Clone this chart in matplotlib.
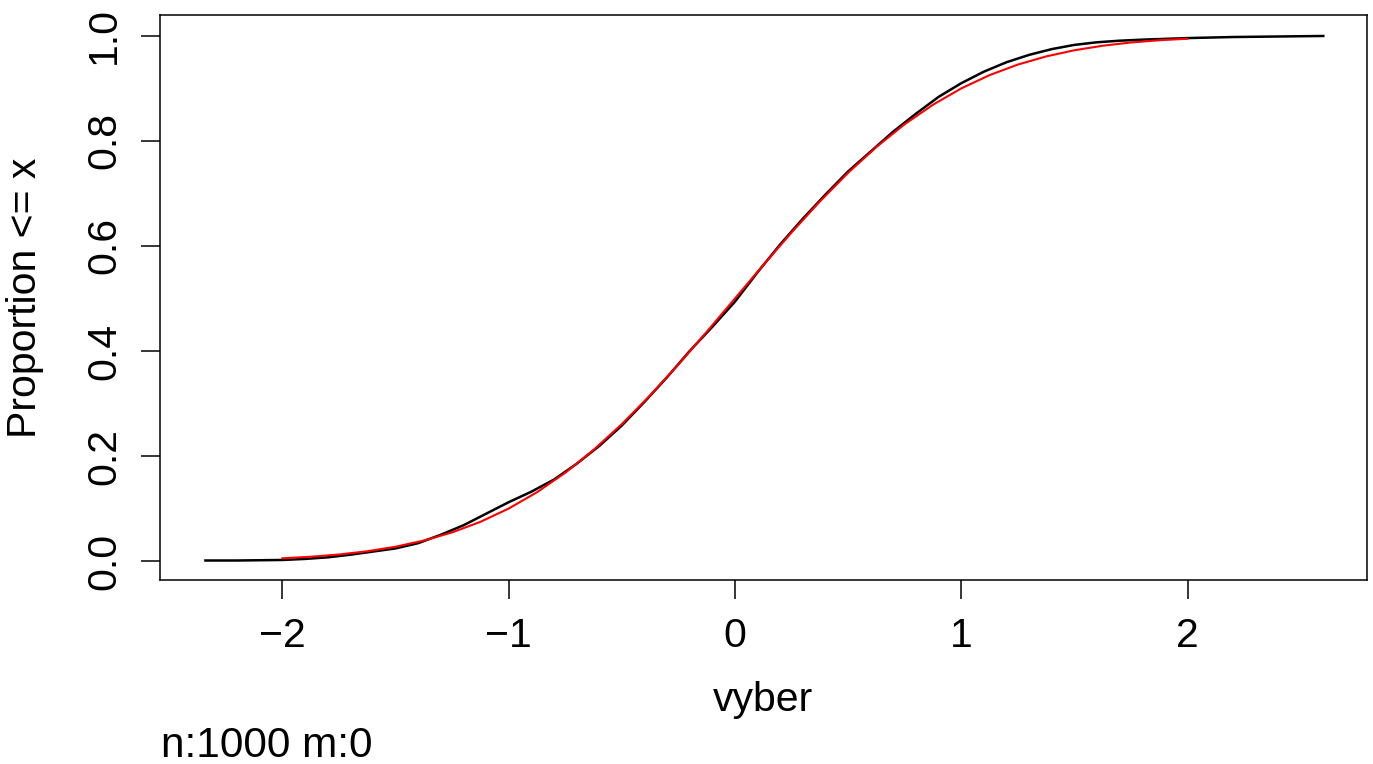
import matplotlib.pyplot as plt

ecdf_x = [-2.34, -2.2, -2.0, -1.9, -1.8, -1.7, -1.6, -1.5, -1.4, -1.3, -1.2, -1.1,
          -1.0, -0.9, -0.8, -0.7, -0.6, -0.5, -0.4, -0.3, -0.2, -0.1, 0.0,
          0.1, 0.2, 0.3, 0.4, 0.5, 0.6, 0.7, 0.8, 0.9, 1.0, 1.1, 1.2, 1.3,
          1.4, 1.5, 1.6, 1.7, 1.8, 2.0, 2.2, 2.4, 2.6]
ecdf_p = [0.001, 0.001, 0.002, 0.004, 0.007, 0.012, 0.018, 0.024, 0.034, 0.050, 0.068, 0.090,
          0.112, 0.132, 0.155, 0.185, 0.219, 0.258, 0.303, 0.350, 0.400, 0.446, 0.494,
          0.550, 0.603, 0.652, 0.698, 0.742, 0.780, 0.818, 0.852, 0.884, 0.910, 0.932, 0.950, 0.964,
          0.975, 0.983, 0.988, 0.991, 0.993, 0.996, 0.998, 0.999, 1.0]

# theoretical CDF (red curve)
cdf_x = [-2.0, -1.875, -1.75, -1.625, -1.5, -1.375, -1.25, -1.125, -1.0, -0.875, -0.75,
         -0.625, -0.5, -0.375, -0.25, -0.125, 0.0, 0.125, 0.25, 0.375, 0.5, 0.625,
         0.75, 0.875, 1.0, 1.125, 1.25, 1.375, 1.5, 1.625, 1.75, 1.875, 2.0]
cdf_p = [0.0052, 0.0081, 0.0124, 0.0186, 0.0272, 0.0390, 0.0545, 0.0746, 0.0999, 0.1310, 0.1681,
         0.2115, 0.2607, 0.3153, 0.3743, 0.4364, 0.5, 0.5636, 0.6257, 0.6847, 0.7393, 0.7885,
         0.8319, 0.8690, 0.9001, 0.9254, 0.9455, 0.9610, 0.9728, 0.9814, 0.9876, 0.9919, 0.9948]

x_ticks = [-2, -1, 0, 1, 2]
x_tick_labels = ['\u22122', '\u22121', '0', '1', '2']
y_ticks = [0.0, 0.2, 0.4, 0.6, 0.8, 1.0]
y_tick_labels = ['0.0', '0.2', '0.4', '0.6', '0.8', '1.0']

plt.rcParams['font.family'] = ['Liberation Sans', 'DejaVu Sans']
fs = 29.5

fig = plt.figure(figsize=(13.73, 7.64), dpi=100)
ax = fig.add_axes([0.1165, 0.2408, 0.8791, 0.7396])

ax.plot(ecdf_x, ecdf_p, color='black', lw=1.8)
ax.plot(cdf_x, cdf_p, color='red', lw=1.5)

ax.set_xlim(-2.541, 2.793)
ax.set_ylim(-0.0362, 1.04)

ax.set_xticks(x_ticks)
ax.set_xticklabels(x_tick_labels)
ax.set_yticks(y_ticks)
ax.set_yticklabels(y_tick_labels)
plt.setp(ax.get_yticklabels(), rotation=90, va='center')

ax.tick_params(axis='both', labelsize=fs, length=13.5, width=1.1, direction='out')
ax.tick_params(axis='x', pad=13)
ax.tick_params(axis='y', pad=13)
for s in ax.spines.values():
  s.set_linewidth(1.1)

fig.text(0.556, 0.084, 'vyber', fontsize=fs, ha='center', va='center')
fig.text(0.0182, 0.61, 'Proportion <= x', fontsize=fs, ha='center', va='center', rotation=90)
fig.text(0.117, 0.024, 'n:1000 m:0', fontsize=30.5, ha='left', va='center')

fig.savefig('out.png', dpi=100)
